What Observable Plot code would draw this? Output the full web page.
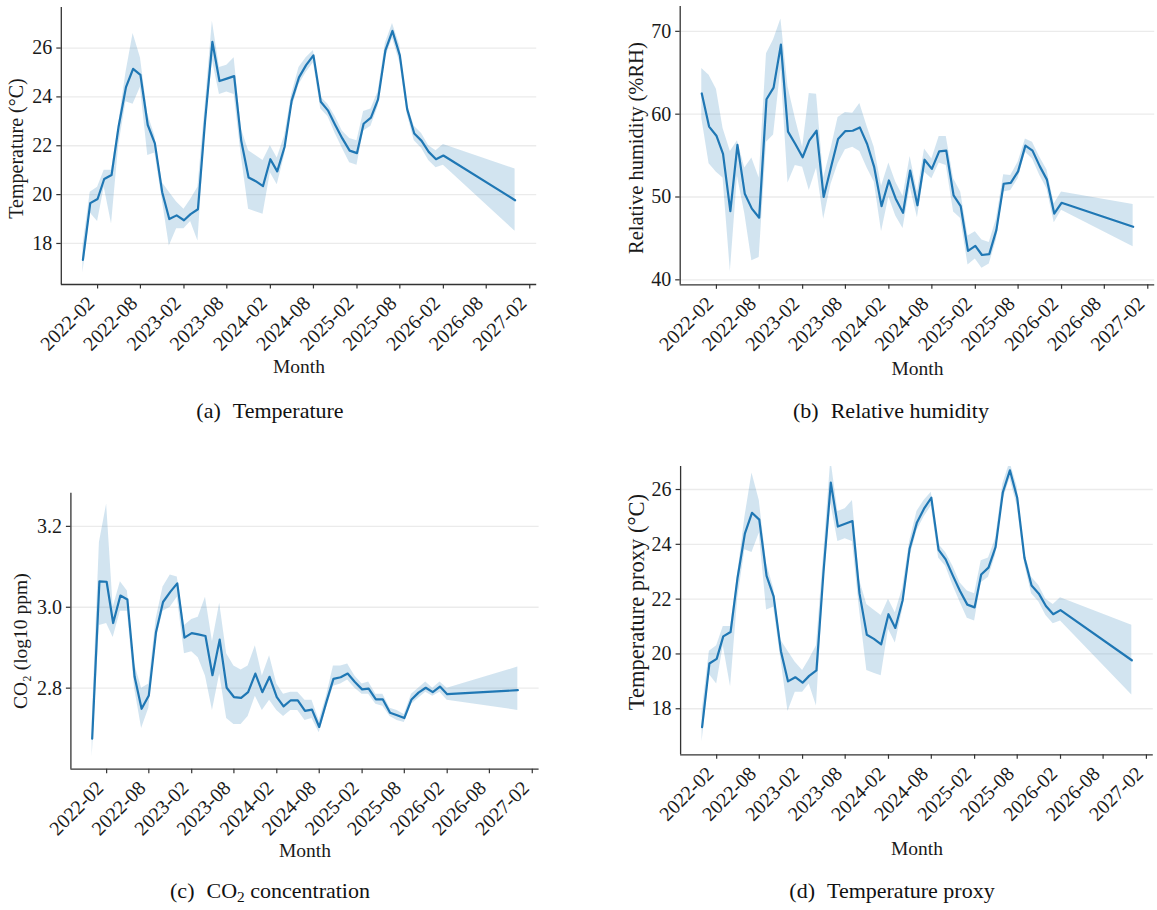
<!DOCTYPE html>
<html>
<head>
<meta charset="utf-8">
<script src="https://cdn.jsdelivr.net/npm/d3@7"></script>
<script src="https://cdn.jsdelivr.net/npm/@observablehq/plot@0.6"></script>
<style>
  html, body { margin: 0; padding: 0; background: #fff; }
  body { width: 1157px; height: 910px; position: relative; overflow: hidden;
         font-family: "Liberation Serif", "Times New Roman", serif; color: #111; }
  .panel { position: absolute; }
  .cap { position: absolute; font-size: 22px; line-height: 1; white-space: nowrap;
         transform: translateX(-50%); color: #111; }
  .cap .gap { display: inline-block; width: 12px; }
  .cap sub { font-size: 0.7em; vertical-align: -0.25em; line-height: 0; }
</style>
</head>
<body>
<div id="pa" class="panel" style="left:0px;top:0px"></div>
<div id="pb" class="panel" style="left:580px;top:0px"></div>
<div id="pc" class="panel" style="left:0px;top:470px"></div>
<div id="pd" class="panel" style="left:580px;top:450px"></div>
<div class="cap" style="left:270px;top:400px">(a)<span class="gap"></span>Temperature</div>
<div class="cap" style="left:891px;top:400px">(b)<span class="gap"></span>Relative humidity</div>
<div class="cap" style="left:270px;top:880px">(c)<span class="gap"></span>CO<sub>2</sub> concentration</div>
<div class="cap" style="left:892px;top:880px">(d)<span class="gap"></span>Temperature proxy</div>
<script>
// ---------- data ----------
const months = [
  "2021-12",
  "2022-01","2022-02","2022-03","2022-04","2022-05","2022-06","2022-07","2022-08","2022-09","2022-10","2022-11","2022-12",
  "2023-01","2023-02","2023-03","2023-04","2023-05","2023-06","2023-07","2023-08","2023-09","2023-10","2023-11","2023-12",
  "2024-01","2024-02","2024-03","2024-04","2024-05","2024-06","2024-07","2024-08","2024-09","2024-10","2024-11","2024-12",
  "2025-01","2025-02","2025-03","2025-04","2025-05","2025-06","2025-07","2025-08","2025-09","2025-10","2025-11","2025-12",
  "2026-01","2026-02","2026-12"
];

const xTickLabels = ["2022-02","2022-08","2023-02","2023-08","2024-02","2024-08","2025-02","2025-08","2026-02","2026-08","2027-02"];

const tempMean = [17.33,19.65,19.82,20.64,20.8,22.8,24.4,25.15,24.9,22.85,22.1,20.1,19.0,19.15,18.95,19.2,19.4,23.0,26.25,24.65,24.75,24.85,22.2,20.7,20.55,20.35,21.45,20.95,21.95,23.85,24.8,25.3,25.7,23.8,23.45,22.85,22.3,21.8,21.7,22.9,23.15,23.9,25.9,26.7,25.7,23.5,22.5,22.2,21.75,21.45,21.6,19.77];
const tempLow  = [16.8,19.25,18.9,20.3,18.8,22.0,23.8,23.7,24.4,21.6,21.7,19.8,17.9,18.6,18.6,18.9,18.1,22.5,25.5,24.1,24.2,24.1,21.6,19.4,19.3,19.2,20.9,20.4,21.6,23.5,24.5,25.0,25.4,23.5,23.2,22.5,21.9,21.3,21.2,22.6,22.8,23.6,25.6,26.4,25.4,23.3,22.2,21.9,21.4,21.1,21.2,18.5];
const tempHigh = [17.9,20.1,20.3,21.0,21.0,22.9,25.0,26.6,25.6,23.3,22.4,20.5,20.1,19.7,19.4,19.8,20.3,23.6,27.1,25.2,25.3,25.6,22.7,21.8,21.6,21.4,22.0,21.5,22.4,24.1,25.2,25.6,25.9,24.0,23.7,23.2,22.6,22.3,22.2,23.4,23.5,24.2,26.2,27.0,26.1,23.7,22.8,22.5,22.0,21.8,22.05,21.05];

const rhMean = [62.5,58.5,57.4,55.2,48.3,56.3,50.4,48.6,47.5,61.8,63.2,68.4,57.9,56.4,54.8,56.8,58.0,50.0,53.6,57.0,57.96,58.0,58.4,56.4,53.6,48.9,52.0,49.8,48.1,53.2,49.0,54.5,53.4,55.5,55.6,50.2,48.9,43.5,44.1,43.0,43.1,46.0,51.6,51.7,53.1,56.2,55.6,53.7,52.1,48.0,49.3,46.4];
const rhLow  = [59.5,54.0,53.0,52.3,41.0,52.5,48.0,42.3,42.7,56.6,57.5,65.5,51.7,53.8,53.6,50.8,53.5,47.3,51.5,54.0,55.7,56.0,55.5,53.5,51.8,45.8,50.0,47.7,46.2,51.2,47.5,53.0,52.2,54.1,53.8,48.2,47.4,41.8,42.5,41.4,41.9,44.8,50.6,50.8,52.2,55.4,54.6,52.6,51.0,46.9,48.4,44.0];
const rhHigh = [65.5,64.7,63.0,58.3,55.5,56.8,53.5,54.7,52.3,67.3,69.0,71.5,63.3,59.5,56.0,62.5,62.4,52.3,55.8,59.6,60.2,60.1,61.3,58.5,56.0,51.3,54.1,51.8,50.1,54.9,50.6,55.8,54.6,57.3,57.3,52.2,50.6,45.3,45.8,44.8,44.5,47.3,52.7,52.6,54.2,57.0,56.6,54.8,53.3,49.2,50.6,49.1];

const co2Mean = [2.675,3.064,3.063,2.961,3.029,3.019,2.828,2.749,2.782,2.939,3.013,3.038,3.059,2.925,2.936,2.933,2.929,2.832,2.92,2.801,2.778,2.776,2.79,2.836,2.79,2.828,2.778,2.755,2.77,2.77,2.744,2.747,2.704,2.766,2.823,2.827,2.836,2.815,2.797,2.799,2.772,2.772,2.739,2.733,2.726,2.772,2.789,2.801,2.79,2.804,2.785,2.795];
const co2Low  = [2.63,2.955,2.96,2.925,2.99,2.99,2.80,2.70,2.75,2.92,2.99,3.0,3.025,2.885,2.89,2.875,2.83,2.745,2.835,2.725,2.71,2.71,2.73,2.78,2.745,2.77,2.745,2.73,2.745,2.745,2.72,2.725,2.69,2.75,2.805,2.81,2.82,2.80,2.785,2.785,2.76,2.755,2.73,2.72,2.715,2.76,2.775,2.79,2.78,2.79,2.77,2.745];
const co2High = [2.72,3.16,3.255,3.0,3.063,3.04,2.86,2.80,2.81,2.97,3.05,3.08,3.075,2.955,2.97,2.975,3.025,2.915,3.01,2.885,2.855,2.845,2.855,2.905,2.83,2.88,2.81,2.785,2.79,2.79,2.77,2.77,2.72,2.78,2.855,2.855,2.86,2.83,2.81,2.815,2.785,2.785,2.75,2.745,2.735,2.785,2.80,2.815,2.80,2.815,2.80,2.852];

const tempTicks = [18, 20, 22, 24, 26];
const rhTicks = [40, 50, 60, 70];
const co2Ticks = [2.8, 3.0, 3.2];

// ---------- helpers ----------
const parse = d3.utcParse("%Y-%m");
const dates = months.map(parse);
const span = dates[dates.length - 1] - dates[0];
const xDomain = [new Date(+dates[0] - 0.05 * span), new Date(+dates[dates.length - 1] + 0.05 * span)];
const xTicks = xTickLabels.map(s => ({date: parse(s), label: s}));

const C0 = "#1f77b4";
const FONT = "Liberation Serif, Times New Roman, serif";

function rows(mean, low, high) {
  return dates.map((d, i) => ({date: d, mean: mean[i], low: low[i], high: high[i]}));
}

function panel(o) {
  const data = rows(o.mean, o.low, o.high);
  return Plot.plot({
    width: o.width, height: o.height,
    marginLeft: o.mL, marginRight: o.mR, marginTop: o.mT, marginBottom: o.mB,
    style: {fontFamily: FONT, color: "#1a1a1a", background: "transparent", overflow: "visible"},
    x: {type: "utc", domain: xDomain},
    y: {domain: o.yDomain},
    marks: [
      Plot.ruleY(o.yTicks, {stroke: "#ebebeb", strokeWidth: 1.3}),
      Plot.areaY(data, {x: "date", y1: "low", y2: "high", fill: C0, fillOpacity: 0.2, clip: true}),
      Plot.lineY(data, {x: "date", y: "mean", stroke: C0, strokeWidth: 2.2, clip: true}),
      Plot.axisY(o.yTicks, {tickSize: 4.5, tickPadding: 4.5, fontSize: 20, label: null,
                            tickFormat: o.yFormat, stroke: "#333", strokeWidth: 1.2}),
      Plot.axisX(xTicks.map(t => t.date), {tickSize: 4.5, tickFormat: () => "", label: null,
                                           stroke: "#333", strokeWidth: 1.2}),
      Plot.text(xTicks, {x: "date", text: "label", frameAnchor: "bottom", rotate: -45,
                         textAnchor: "end", lineAnchor: "top", dx: -12, dy: 10, fontSize: 20}),
      Plot.ruleX([xDomain[0]], {stroke: "#333", strokeWidth: 1.3}),
      Plot.ruleY([o.yDomain[0]], {stroke: "#333", strokeWidth: 1.3}),
      Plot.text([o.yLabel], {text: d => d, frameAnchor: "left", rotate: -90, lineAnchor: "top",
                             textAnchor: "middle", dx: o.ylDx, dy: o.ylDy, fontSize: o.ylSize}),
      Plot.text(["Month"], {text: d => d, frameAnchor: "bottom", lineAnchor: "top",
                            textAnchor: "middle", dy: o.xlDy, fontSize: 19.5})
    ]
  });
}

const fmtInt = d3.format("d");
const fmt1 = d3.format(".1f");

document.getElementById("pa").append(panel({
  width: 570, height: 400, mL: 60.8, mR: 33.8, mT: 7, mB: 116,
  yDomain: [16.32, 27.66], yTicks: tempTicks, yFormat: fmtInt,
  mean: tempMean, low: tempLow, high: tempHigh,
  yLabel: "Temperature (°C)", ylDx: -52.8, ylDy: 2.5, ylSize: 20, xlDy: 75
}));

document.getElementById("pb").append(panel({
  width: 577, height: 400, mL: 99.7, mR: 2.8, mT: 6, mB: 115.7,
  yDomain: [39.4, 73.0], yTicks: rhTicks, yFormat: fmtInt,
  mean: rhMean, low: rhLow, high: rhHigh,
  yLabel: "Relative humidity (%RH)", ylDx: -51.7, ylDy: 2.5, ylSize: 20.5, xlDy: 76.4
}));

document.getElementById("pc").append(panel({
  width: 570, height: 400, mL: 70.4, mR: 31.4, mT: 22.7, mB: 101.3,
  yDomain: [2.5996, 3.282], yTicks: co2Ticks, yFormat: fmt1,
  mean: co2Mean, low: co2Low, high: co2High,
  yLabel: "CO₂ (log10 ppm)", ylDx: -57.7, ylDy: 10, ylSize: 19.5, xlDy: 74.3
}));

document.getElementById("pd").append(panel({
  width: 577, height: 420, mL: 100.1, mR: 4.2, mT: 16, mB: 115.7,
  yDomain: [16.32, 26.84], yTicks: tempTicks, yFormat: fmtInt,
  mean: tempMean, low: tempLow, high: tempHigh,
  yLabel: "Temperature proxy (°C)", ylDx: -52.1, ylDy: -8.5, ylSize: 22.5, xlDy: 86.4
}));
</script>
</body>
</html>
